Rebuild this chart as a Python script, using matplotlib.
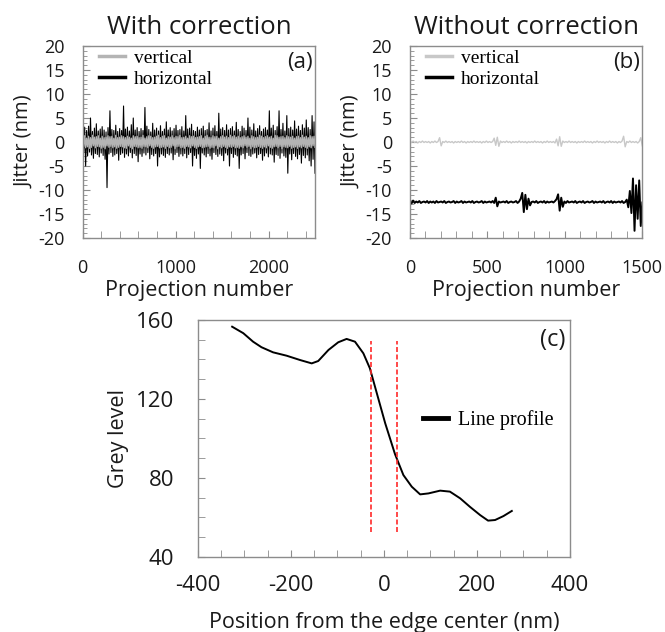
import numpy as np
import matplotlib.pyplot as plt
from matplotlib.lines import Line2D
from matplotlib.ticker import MultipleLocator

plt.rcParams['font.family'] = ['Open Sans', 'DejaVu Sans']
plt.rcParams['axes.unicode_minus'] = False

# (a) with correction: jitter values (nm), one every ~10 projections
a_horiz = [
    2.6, -2.2, 3.1, -5.0, 2.4, -2.9, 3.3, -2.1, 5.0, -2.7, 2.2, -3.4, 2.9, -2.4, 3.8, -2.6, 2.3, -3.1, 2.7, -2.3,
    3.2, -2.8, 2.5, -3.6, 2.1, -9.5, 3.0, -2.5, 6.5, -2.2, 2.6, -3.0, 2.4, -2.7, 3.5, -2.4, 2.2, -3.8, 2.8, -2.6,
    2.4, -2.3, 7.5, -3.2, 2.7, -2.5, 3.1, -2.9, 2.3, -2.2, 3.6, -3.3, 5.0, -2.4, 2.5, -2.8, 3.0, -4.1, 2.2, -2.5,
    2.8, -3.0, 2.4, -2.3, 7.2, -2.7, 3.3, -2.2, 2.6, -3.5, 2.1, -2.6, 3.9, -2.9, 2.5, -2.4, 2.9, -5.0, 2.3, -3.1,
    3.4, -2.5, 2.2, -2.8, 2.7, -3.2, 4.2, -2.4, 2.5, -2.7, 3.0, -2.3, 2.3, -3.7, 2.8, -2.6, 3.5, -2.2, 2.4, -3.0,
    2.6, -2.5, 3.2, -2.9, 2.3, -2.4, 5.5, -3.3, 2.7, -2.6, 2.9, -2.2, 3.7, -5.0, 2.4, -2.8, 2.2, -3.4, 3.1, -2.5,
    2.5, -5.5, 2.8, -2.3, 3.3, -2.7, 2.4, -3.1, 2.6, -2.4, 4.0, -2.9, 2.3, -3.6, 2.9, -2.2, 3.4, -2.6, 2.2, -3.0,
    6.0, -2.5, 2.7, -2.8, 3.0, -3.9, 2.4, -2.3, 3.6, -2.7, 2.5, -5.0, 2.8, -2.4, 3.2, -3.2, 2.3, -2.6, 4.1, -2.9,
    2.6, -5.5, 2.2, -2.7, 3.3, -2.4, 2.9, -3.5, 2.4, -2.2, 5.0, -2.8, 3.1, -3.0, 2.5, -2.5, 3.8, -2.3, 2.3, -3.3,
    2.8, -2.6, 3.4, -2.4, 2.2, -3.8, 2.7, -2.9, 3.0, -2.3, 2.5, -3.1, 6.5, -2.5, 2.9, -2.7, 3.5, -4.2, 2.4, -2.6,
    3.2, -2.8, 6.5, -3.4, 2.6, -2.3, 3.9, -2.9, 2.3, -3.2, 5.5, -6.5, 2.8, -2.5, 3.1, -3.7, 2.5, -2.4, 4.4, -3.0,
    2.7, -3.5, 3.3, -2.6, 2.4, -4.4, 3.6, -2.8, 2.9, -3.3, 4.6, -2.7, 3.0, -3.9, 2.6, -5.0, 5.5, -3.6, 4.2, -6.5,
]
a_vert = [
    1.1, -0.9, 1.3, -1.2, 0.8, -1.0, 1.2, -1.3, 0.9, -1.1, 1.4, -0.8, 1.0, -1.2, 1.1, -0.9, 1.3, -1.0, 0.8, -1.3,
    1.2, -1.1, 0.9, -1.4, 1.0, -0.8, 1.3, -1.1, 1.1, -0.9, 1.2, -1.2, 0.8, -1.0, 1.4, -1.3, 0.9, -1.1, 1.0, -0.9,
    1.3, -1.0, 1.1, -1.2, 0.9, -1.3, 1.2, -0.8, 1.0, -1.1, 0.8, -1.4, 1.3, -0.9, 1.1, -1.0, 1.2, -1.2, 0.9, -1.1,
    1.0, -1.3, 1.4, -0.9, 0.8, -1.0, 1.1, -1.2, 1.3, -0.8, 1.2, -1.1, 0.9, -1.3, 1.0, -1.0, 1.2, -0.9, 1.4, -1.2,
    0.9, -1.1, 1.2, -1.0, 1.3, -1.3, 0.8, -0.9, 1.1, -1.2, 1.0, -1.1, 1.3, -0.8, 0.9, -1.4, 1.2, -1.0, 1.1, -0.9,
    1.4, -1.2, 0.9, -1.1, 1.0, -1.3, 1.2, -0.9, 0.8, -1.0, 1.3, -1.2, 1.1, -0.8, 1.2, -1.1, 0.9, -1.3, 1.0, -1.0,
    1.1, -0.9, 1.3, -1.2, 0.8, -1.1, 1.2, -1.0, 1.4, -0.9, 1.0, -1.3, 0.9, -1.1, 1.3, -1.2, 1.1, -0.8, 1.2, -1.4,
    0.8, -1.0, 1.1, -1.2, 1.3, -0.9, 1.0, -1.1, 1.2, -1.3, 0.9, -1.0, 1.4, -1.1, 1.1, -0.9, 1.3, -1.2, 1.0, -1.1,
    1.2, -1.3, 0.9, -1.0, 1.1, -1.2, 1.3, -0.8, 1.0, -1.1, 1.2, -0.9, 0.8, -1.4, 1.3, -1.0, 1.1, -1.2, 0.9, -1.1,
    1.0, -0.9, 1.4, -1.1, 1.2, -1.3, 0.9, -1.0, 1.1, -1.2, 1.3, -0.8, 1.0, -1.1, 1.2, -1.3, 0.8, -1.0, 1.4, -0.9,
    1.3, -1.2, 1.0, -0.9, 1.1, -1.4, 1.2, -1.0, 0.9, -1.1, 1.3, -1.2, 1.1, -0.9, 1.0, -1.3, 1.2, -1.1, 0.8, -1.0,
    1.1, -1.3, 1.2, -1.0, 0.9, -1.2, 1.4, -0.9, 1.0, -1.1, 1.2, -1.3, 0.9, -1.0, 1.3, -1.2, 1.1, -0.8, 1.2, -1.1,
]
a_nproj = 2500

# (b) without correction
b_vert = [
    0.1, -0.1, 0.2, -0.1, 0.1, -0.2, 0.1, -0.1, 0.2, -0.1, 0.1, -0.1, 0.1, -0.2, 0.1,
    -0.1, 0.2, -0.1, 0.1, 0.9, -0.8, 0.1, -0.1, 0.2, -0.1, 0.1, -0.1, 0.1, -0.2, 0.1,
    -0.1, 0.1, -0.1, 0.2, -0.1, 0.1, -0.2, 0.1, -0.1, 0.1, -0.1, 0.2, -0.1, 0.1, -0.1,
    0.1, -0.2, 0.1, -0.1, 0.2, -0.1, 0.1, -0.1, 0.1, 0.8, -0.7, 1.0, -0.9, 0.2, -0.1,
    0.1, -0.1, 0.2, -0.1, 0.1, -0.2, 0.1, -0.1, 0.1, -0.1, 0.2, -0.1, 0.1, -0.1, 0.1,
    -0.2, 0.1, -0.1, 0.1, -0.1, 0.2, -0.1, 0.1, -0.1, 0.1, -0.2, 0.1, -0.1, 0.2, -0.1,
    0.1, -0.1, 0.1, -0.2, 0.6, -0.8, 1.1, -0.9, 0.2, -0.1, 0.1, -0.1, 0.2, -0.1, 0.1,
    -0.1, 0.1, -0.2, 0.1, -0.1, 0.1, -0.1, 0.2, -0.1, 0.1, -0.1, 0.1, -0.2, 0.1, -0.1,
    0.2, -0.1, 0.1, -0.1, 0.1, -0.2, 0.1, -0.1, 0.2, -0.1, 0.1, -0.1, 0.1, -0.2, 0.1,
    -0.1, 0.2, 1.2, -1.0, 0.1, -0.1, 0.2, -0.1, 0.1, -0.1, 0.1, -0.2, 0.1, 0.9, -0.8,
]
b_horiz = [
    -12.3, -12.8, -12.2, -12.7, -12.4, -12.6, -12.3, -12.7, -12.5, -12.4, -12.6, -12.3, -12.7, -12.4, -12.6,
    -12.4, -12.7, -12.3, -12.6, -12.5, -12.4, -12.6, -12.3, -12.7, -12.5, -12.4, -12.6, -12.5, -12.3, -12.7,
    -12.4, -12.6, -12.5, -12.3, -12.7, -12.4, -12.6, -12.5, -12.4, -12.6, -12.3, -12.7, -12.5, -12.4, -12.6,
    -12.5, -12.3, -12.7, -12.4, -12.6, -12.5, -12.4, -12.6, -12.3, -12.7, -11.6, -13.4, -12.4, -12.6, -12.5,
    -12.4, -12.6, -12.3, -12.7, -12.5, -12.4, -12.6, -12.5, -12.3, -12.7, -12.4, -11.8, -10.6, -14.6, -11.0,
    -14.0, -11.8, -13.2, -12.5, -12.4, -12.6, -12.3, -12.7, -12.5, -12.4, -12.6, -12.3, -12.7, -12.4, -12.6,
    -12.5, -12.4, -12.6, -12.3, -11.9, -10.9, -14.3, -11.6, -13.5, -12.4, -12.7, -12.3, -12.6, -12.5, -12.4,
    -12.6, -12.3, -12.7, -12.5, -12.4, -12.6, -12.3, -12.7, -12.5, -12.4, -12.6, -12.5, -12.3, -12.7, -12.4,
    -12.6, -12.5, -12.4, -12.6, -12.3, -12.7, -12.5, -12.4, -12.6, -12.3, -12.7, -12.4, -12.6, -12.5, -12.4,
    -12.6, -12.3, -12.7, -12.5, -12.0, -13.6, -10.2, -14.8, -7.6, -18.5, -9.0, -16.0, -8.0, -17.5, -12.6,
]
b_nproj = 1500

# (c) line profile across the edge
c_pos = [-326, -302, -281, -263, -238, -209, -180, -155, -141, -119, -98, -80, -62, -44,
         -30, -15, 3, 24, 42, 60, 78, 96, 121, 142, 164, 185, 207, 224, 239, 257, 275]
c_grey = [156.6, 153.3, 149.0, 146.2, 143.6, 141.9, 139.7, 138.0, 139.2, 144.8, 148.7,
          150.4, 149.0, 143.1, 135.5, 122.8, 107.6, 92.0, 81.4, 75.5, 71.6, 72.1, 73.5,
          73.0, 69.6, 65.3, 61.1, 58.3, 58.6, 60.6, 63.2]
edge_marks = [-28, 28]
edge_span = (52.5, 149.5)

spine_col = '#8c8c8c'
txt_col = '#1a1a1a'
serif = ['Liberation Serif', 'DejaVu Serif']

fig = plt.figure(figsize=(6.65, 6.32), dpi=100)
ax_a = fig.add_axes([0.1244, 0.6234, 0.3493, 0.3038])
ax_b = fig.add_axes([0.6165, 0.6234, 0.3494, 0.3038])
ax_c = fig.add_axes([0.2973, 0.1191, 0.5598, 0.3746])


def style_axes(ax):
    for s in ax.spines.values():
        s.set_color(spine_col)
        s.set_linewidth(1.0)
    ax.tick_params(which='both', direction='in', color=spine_col, labelcolor=txt_col,
                   top=False, right=False)


def jitter_panel(ax, horiz, vert, nproj, vcol, hlw, vlw, title, tag, xmajor, xminor):
    xh = np.linspace(0, nproj, len(horiz))
    xv = np.linspace(0, nproj, len(vert))
    ax.plot(xh, horiz, color='black', lw=hlw)
    ax.plot(xv, vert, color=vcol, lw=vlw)
    ax.set_xlim(0, nproj)
    ax.set_ylim(-20, 20)
    ax.xaxis.set_major_locator(MultipleLocator(xmajor))
    ax.xaxis.set_minor_locator(MultipleLocator(xminor))
    ax.yaxis.set_major_locator(MultipleLocator(5))
    ax.yaxis.set_minor_locator(MultipleLocator(1))
    style_axes(ax)
    ax.tick_params(which='major', length=5, labelsize=13)
    ax.tick_params(which='minor', length=3)
    ax.tick_params(axis='x', which='both', length=5)
    ax.tick_params(axis='x', which='major', pad=15)
    ax.tick_params(axis='y', which='major', pad=13)
    ax.set_xlabel('Projection number', fontsize=15.5, color=txt_col, labelpad=2)
    ax.set_ylabel('Jitter (nm)', fontsize=14.5, color=txt_col, labelpad=3)
    ax.set_title(title, fontsize=18.5, color=txt_col, pad=9)
    ax.text(0.99, 0.915, tag, transform=ax.transAxes, ha='right', va='center',
            fontsize=16, color=txt_col)
    handles = [Line2D([], [], color=vcol, lw=2.5), Line2D([], [], color='black', lw=2.5)]
    ax.legend(handles, ['vertical', 'horizontal'], loc='upper left',
              bbox_to_anchor=(0.07, 0.985), frameon=False, borderpad=0, borderaxespad=0,
              handlelength=1.35, handletextpad=0.45, labelspacing=0.2,
              prop={'family': serif, 'size': 14})


jitter_panel(ax_a, a_horiz, a_vert, a_nproj, '#b4b4b4', 0.8, 1.0,
             'With correction', '(a)', 1000, 200)
jitter_panel(ax_b, b_horiz, b_vert, b_nproj, '#c8c8c8', 1.4, 1.0,
             'Without correction', '(b)', 500, 100)

# (c)
ax_c.plot(c_pos, c_grey, color='black', lw=1.4)
for xm in edge_marks:
    ax_c.plot([xm, xm], edge_span, color='#ff2a2a', lw=1.2, ls=(0, (3, 1.5)))
ax_c.set_xlim(-400, 400)
ax_c.set_ylim(40, 160)
ax_c.xaxis.set_major_locator(MultipleLocator(200))
ax_c.xaxis.set_minor_locator(MultipleLocator(50))
ax_c.yaxis.set_major_locator(MultipleLocator(40))
ax_c.yaxis.set_minor_locator(MultipleLocator(10))
style_axes(ax_c)
ax_c.tick_params(which='both', length=5)
ax_c.tick_params(which='major', labelsize=16)
ax_c.tick_params(axis='x', which='major', pad=13)
ax_c.tick_params(axis='y', which='major', pad=17)
ax_c.set_xlabel('Position from the edge center (nm)', fontsize=15.5, color=txt_col, labelpad=12)
ax_c.set_ylabel('Grey level', fontsize=15.5, color=txt_col, labelpad=5)
ax_c.text(0.987, 0.915, '(c)', transform=ax_c.transAxes, ha='right', va='center',
          fontsize=17, color=txt_col)
ax_c.legend([Line2D([], [], color='black', lw=3.5)], ['Line profile'], loc='center left',
            bbox_to_anchor=(0.605, 0.578), frameon=False, borderpad=0, borderaxespad=0,
            handlelength=1.25, handletextpad=0.5, prop={'family': serif, 'size': 14.5})

fig.savefig('out.png', dpi=100)
